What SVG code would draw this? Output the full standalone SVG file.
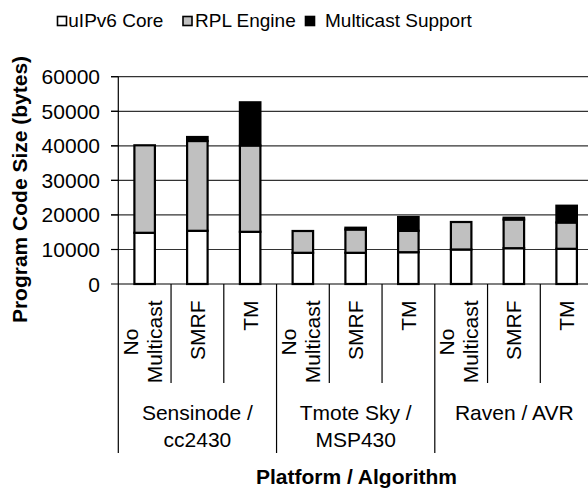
<svg xmlns="http://www.w3.org/2000/svg" width="588" height="492" viewBox="0 0 588 492">
  <style>
    text { font-family: "Liberation Sans", Arial, sans-serif; fill: #000; }
    .leg { font-size: 19px; }
    .tick { font-size: 21px; text-anchor: end; }
    .cat { font-size: 21px; }
    .grp { font-size: 21px; text-anchor: middle; }
    .title { font-size: 21px; font-weight: bold; text-anchor: middle; }
    .grid { stroke: #333; stroke-width: 1.2; }
    .axis { stroke: #000; stroke-width: 1.2; fill: none; }
    .seg { stroke: #000; stroke-width: 2.2; }
    .core { fill: #fff; }
    .rpl { fill: #c0c0c0; }
    .mc { fill: #000; }
    .sw { stroke: #000; stroke-width: 1.6; }
  </style>

  <!-- legend -->
  <g id="legend">
    <rect class="sw core" x="57.5" y="16.5" width="9" height="9"/>
    <text class="leg" x="68.3" y="27">uIPv6 Core</text>
    <rect class="sw rpl" x="183" y="16.5" width="9" height="9"/>
    <text class="leg" x="195" y="27">RPL Engine</text>
    <rect class="sw mc" x="305.5" y="16.5" width="9" height="9"/>
    <text class="leg" x="325" y="27">Multicast Support</text>
  </g>

  <!-- gridlines and value axis -->
  <g id="grid">
    <line class="grid" x1="111" y1="76.7" x2="588" y2="76.7"/>
    <line class="grid" x1="111" y1="111.3" x2="588" y2="111.3"/>
    <line class="grid" x1="111" y1="145.8" x2="588" y2="145.8"/>
    <line class="grid" x1="111" y1="180.4" x2="588" y2="180.4"/>
    <line class="grid" x1="111" y1="214.9" x2="588" y2="214.9"/>
    <line class="grid" x1="111" y1="249.5" x2="588" y2="249.5"/>
  </g>
  <g id="y-ticks">
    <text class="tick" x="100" y="84.2">60000</text>
    <text class="tick" x="100" y="118.8">50000</text>
    <text class="tick" x="100" y="153.3">40000</text>
    <text class="tick" x="100" y="187.9">30000</text>
    <text class="tick" x="100" y="222.4">20000</text>
    <text class="tick" x="100" y="257">10000</text>
    <text class="tick" x="100" y="291.5">0</text>
  </g>
  <text class="title" transform="translate(26.7,189.5) rotate(-90)">Program Code Size (bytes)</text>

  <!-- stacked bars -->
  <g id="bar-sensinode-none">
    <rect class="seg core" x="134.4" y="232.8" width="20.5" height="51.2"/>
    <rect class="seg rpl" x="134.4" y="145.3" width="20.5" height="87.5"/>
  </g>
  <g id="bar-sensinode-smrf">
    <rect class="seg core" x="187.1" y="230.8" width="20.5" height="53.2"/>
    <rect class="seg rpl" x="187.1" y="141" width="20.5" height="89.8"/>
    <rect class="seg mc" x="187.1" y="137" width="20.5" height="4"/>
  </g>
  <g id="bar-sensinode-tm">
    <rect class="seg core" x="239.9" y="231.8" width="20.5" height="52.2"/>
    <rect class="seg rpl" x="239.9" y="145.5" width="20.5" height="86.3"/>
    <rect class="seg mc" x="239.9" y="102.3" width="20.5" height="43.2"/>
  </g>
  <g id="bar-tmote-none">
    <rect class="seg core" x="292.6" y="252.8" width="20.5" height="31.2"/>
    <rect class="seg rpl" x="292.6" y="231" width="20.5" height="21.8"/>
  </g>
  <g id="bar-tmote-smrf">
    <rect class="seg core" x="345.4" y="252.8" width="20.5" height="31.2"/>
    <rect class="seg rpl" x="345.4" y="229.5" width="20.5" height="23.3"/>
    <rect class="seg mc" x="345.4" y="227.7" width="20.5" height="1.8"/>
  </g>
  <g id="bar-tmote-tm">
    <rect class="seg core" x="398.1" y="252.2" width="20.5" height="31.8"/>
    <rect class="seg rpl" x="398.1" y="230.8" width="20.5" height="21.4"/>
    <rect class="seg mc" x="398.1" y="217" width="20.5" height="13.8"/>
  </g>
  <g id="bar-raven-none">
    <rect class="seg core" x="450.9" y="249.5" width="20.5" height="34.5"/>
    <rect class="seg rpl" x="450.9" y="222" width="20.5" height="27.5"/>
  </g>
  <g id="bar-raven-smrf">
    <rect class="seg core" x="503.6" y="248.2" width="20.5" height="35.8"/>
    <rect class="seg rpl" x="503.6" y="219.5" width="20.5" height="28.7"/>
    <rect class="seg mc" x="503.6" y="217.7" width="20.5" height="1.8"/>
  </g>
  <g id="bar-raven-tm">
    <rect class="seg core" x="556.4" y="248.8" width="20.5" height="35.2"/>
    <rect class="seg rpl" x="556.4" y="222.5" width="20.5" height="26.3"/>
    <rect class="seg mc" x="556.4" y="205.7" width="20.5" height="16.8"/>
  </g>

  <!-- category axis: baseline, tick marks, group dividers -->
  <g id="connectors">
    <line class="axis" x1="111" y1="284" x2="588" y2="284"/>
    <line class="axis" x1="118.3" y1="76.7" x2="118.3" y2="453"/>
    <line class="axis" x1="111" y1="76.7" x2="118.3" y2="76.7"/>
    <line class="axis" x1="111" y1="111.3" x2="118.3" y2="111.3"/>
    <line class="axis" x1="111" y1="145.8" x2="118.3" y2="145.8"/>
    <line class="axis" x1="111" y1="180.4" x2="118.3" y2="180.4"/>
    <line class="axis" x1="111" y1="214.9" x2="118.3" y2="214.9"/>
    <line class="axis" x1="111" y1="249.5" x2="118.3" y2="249.5"/>
    <line class="axis" x1="171.05" y1="284" x2="171.05" y2="383"/>
    <line class="axis" x1="223.8" y1="284" x2="223.8" y2="383"/>
    <line class="axis" x1="276.55" y1="284" x2="276.55" y2="453"/>
    <line class="axis" x1="329.3" y1="284" x2="329.3" y2="383"/>
    <line class="axis" x1="382.05" y1="284" x2="382.05" y2="383"/>
    <line class="axis" x1="434.8" y1="284" x2="434.8" y2="453"/>
    <line class="axis" x1="487.55" y1="284" x2="487.55" y2="383"/>
    <line class="axis" x1="540.3" y1="284" x2="540.3" y2="383"/>
  </g>

  <!-- algorithm labels (rotated) -->
  <g id="cat-labels">
    <text class="cat" text-anchor="middle" transform="translate(137.5,342) rotate(-90)">No</text>
    <text class="cat" text-anchor="end" transform="translate(161.5,300.5) rotate(-90)">Multicast</text>
    <text class="cat" text-anchor="end" transform="translate(204.9,300.5) rotate(-90)">SMRF</text>
    <text class="cat" text-anchor="end" transform="translate(257.7,300.5) rotate(-90)">TM</text>
    <text class="cat" text-anchor="middle" transform="translate(295.7,342) rotate(-90)">No</text>
    <text class="cat" text-anchor="end" transform="translate(319.7,300.5) rotate(-90)">Multicast</text>
    <text class="cat" text-anchor="end" transform="translate(363.2,300.5) rotate(-90)">SMRF</text>
    <text class="cat" text-anchor="end" transform="translate(415.9,300.5) rotate(-90)">TM</text>
    <text class="cat" text-anchor="middle" transform="translate(454,342) rotate(-90)">No</text>
    <text class="cat" text-anchor="end" transform="translate(478,300.5) rotate(-90)">Multicast</text>
    <text class="cat" text-anchor="end" transform="translate(521.4,300.5) rotate(-90)">SMRF</text>
    <text class="cat" text-anchor="end" transform="translate(574.2,300.5) rotate(-90)">TM</text>
  </g>

  <!-- platform labels -->
  <g id="group-labels">
    <text class="grp" x="197.4" y="420">Sensinode /</text>
    <text class="grp" x="197.4" y="446.5">cc2430</text>
    <text class="grp" x="355.7" y="420">Tmote Sky /</text>
    <text class="grp" x="355.7" y="446.5">MSP430</text>
    <text class="grp" x="514.3" y="419.5">Raven / AVR</text>
  </g>

  <text class="title" x="356.5" y="483.5">Platform / Algorithm</text>
</svg>
